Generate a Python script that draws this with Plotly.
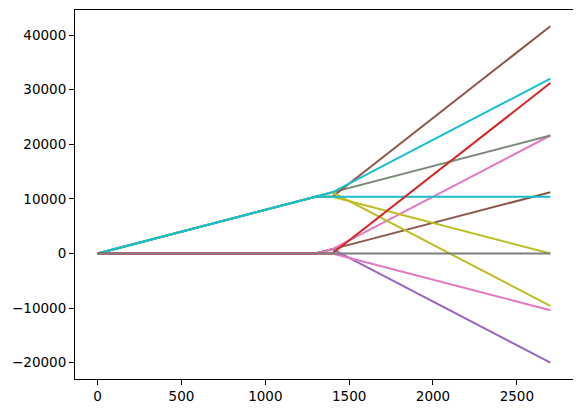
"""
Piecewise trajectories chart (matplotlib-like look, drawn with Plotly).
"""

import plotly.graph_objects as go

# breakpoints shared by every trajectory
X_KNOTS = [0, 1300, 1400, 2700]

# y values at each breakpoint, listed bottom-to-top in drawing order
PURPLE = [0, 0, 800, -20000]
BROWN_LOW = [0, 0, 800, 11200]
PINK_LOW = [0, 0, 0, -10400]
PINK_UP = [0, 0, 800, 21600]
GRAY_GREEN = [0, 10400, 11200, 21600]
BROWN_UP = [0, 10400, 10400, 41600]
OLIVE_UP = [0, 10400, 10400, 0]
OLIVE_LOW = [0, 10400, 11200, -9600]
CYAN_UP = [0, 10400, 11200, 32000]
CYAN_FLAT = [0, 10400, 10400, 10400]
RED = [0, 0, 0, 31200]
GRAY = [0, 0, 0, 0]

SERIES = [
    (PURPLE, "#9467bd"),
    (BROWN_LOW, "#8c564b"),
    (PINK_LOW, "#e377c2"),
    (PINK_UP, "#e377c2"),
    (GRAY_GREEN, "#7b8b78"),
    (BROWN_UP, "#8c564b"),
    (OLIVE_UP, "#bcbd22"),
    (OLIVE_LOW, "#bcbd22"),
    (CYAN_UP, "#17becf"),
    (CYAN_FLAT, "#17becf"),
    (RED, "#d62728"),
    (GRAY, "#7f7f7f"),
]

X_TICKS = [0, 500, 1000, 1500, 2000, 2500]
Y_TICKS = [-20000, -10000, 0, 10000, 20000, 30000, 40000]


def build_figure():
    fig = go.Figure()
    for ys, color in SERIES:
        fig.add_trace(go.Scatter(
            x=X_KNOTS, y=ys, mode="lines",
            line=dict(color=color, width=2),
            showlegend=False,
        ))

    axis_style = dict(
        showgrid=False, zeroline=False,
        showline=True, linecolor="black", linewidth=1, mirror=True,
        ticks="outside", ticklen=5, tickwidth=1, tickcolor="black",
        tickformat="d",
        tickfont=dict(family="DejaVu Sans", size=13.5, color="black"),
    )
    fig.update_xaxes(range=[-135, 2835], tickvals=X_TICKS, **axis_style)
    fig.update_yaxes(range=[-22980, 44580], tickvals=Y_TICKS, **axis_style)

    # page body adds an 8px offset, margins compensate for it
    fig.update_layout(
        width=581, height=413,
        margin=dict(l=67, r=16, t=2, b=42),
        plot_bgcolor="white",
        paper_bgcolor="white",
    )
    return fig


fig = build_figure()
fig.write_html("out.html")
